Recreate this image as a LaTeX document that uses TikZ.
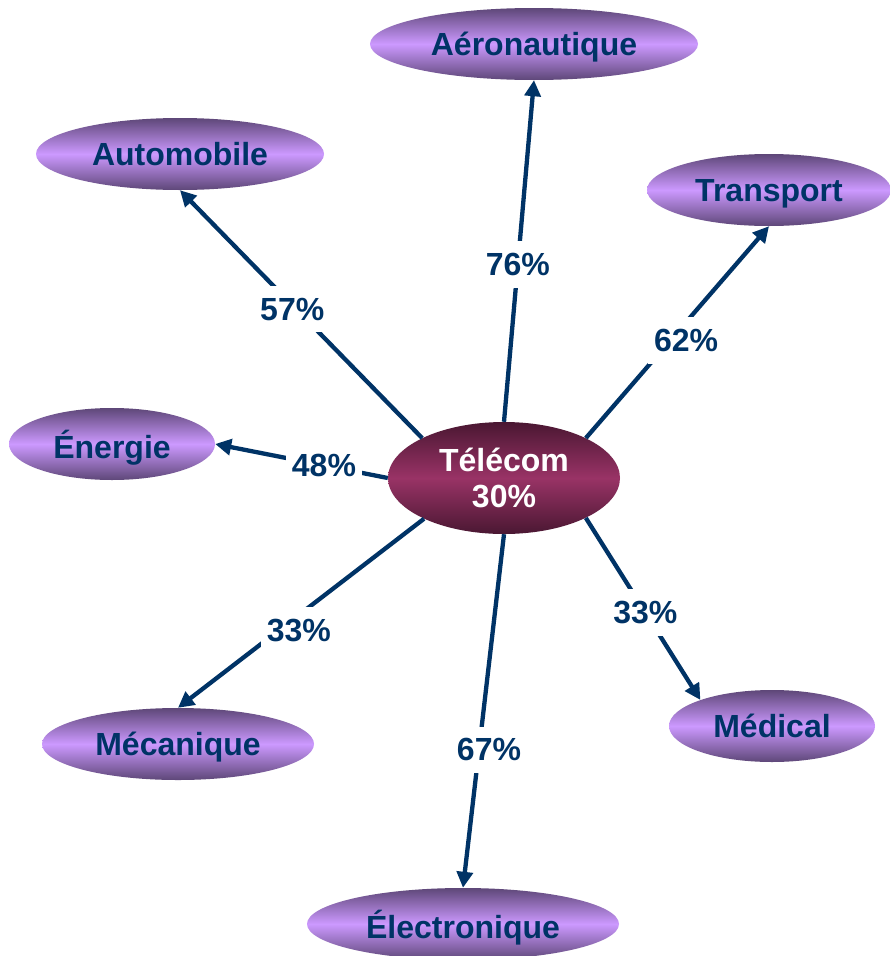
\documentclass[tikz,border=0pt]{standalone}
\usepackage{fontspec}
\setmainfont{Liberation Sans}
\usetikzlibrary{shapes.geometric,arrows.meta}
\definecolor{navy}{HTML}{003366}
\definecolor{lavtop}{HTML}{5E4778}
\definecolor{lavmid}{HTML}{CC99FF}
\definecolor{martop}{HTML}{4A1732}
\definecolor{marmid}{HTML}{993366}
\tikzset{
  field/.style={ellipse, inner sep=0pt, top color=lavtop, bottom color=lavtop, middle color=lavmid,
    text=navy, font=\fontsize{32}{36}\selectfont\bfseries, minimum height=72pt, text depth=0pt},
  hub/.style={ellipse, inner sep=0pt, top color=martop, bottom color=martop, middle color=marmid,
    text=white, font=\fontsize{32}{36}\selectfont\bfseries, align=center,
    minimum width=232pt, minimum height=112pt},
  link/.style={draw=navy, line width=4.3pt, -{Triangle[length=16pt,width=16pt]}},
  pct/.style={fill=white, text=navy, font=\fontsize{32}{36}\selectfont\bfseries, inner xsep=6pt, inner ysep=12pt}
}
\begin{document}
\begin{tikzpicture}[x=1pt,y=-1pt]
\useasboundingbox[fill=white] (0,0) rectangle (890,956);
\node[hub] (tel) at (504,478) {Télécom\\30\%};
\node[field, minimum width=328pt] (aero) at (534,44) {Aéronautique};
\node[field, minimum width=288pt] (auto) at (180,154) {Automobile};
\node[field, minimum width=244pt] (trans) at (769,190) {Transport};
\node[field, minimum width=206pt] (ener) at (112,444) {Énergie};
\node[field, minimum width=272pt] (meca) at (178,744) {Mécanique};
\node[field, minimum width=206pt] (med) at (772,726) {Médical};
\node[field, minimum width=312pt] (elec) at (463,924) {Électronique};
\draw[link] (tel.north) -- node[pct, pos=0.46] {76\%} (aero.south);
\draw[link] (tel.154) -- node[pct, pos=0.52, xshift=-4pt] {57\%} (auto.south);
\draw[link] (tel.26) -- node[pct, pos=0.46, xshift=16pt] {62\%} (trans.south);
\draw[link] (tel.west) -- node[pct, pos=0.37] {48\%} (ener.east);
\draw[link] (tel.207) -- node[pct, pos=0.59, xshift=20pt] {33\%} (meca.north);
\draw[link] (tel.south) -- node[pct, pos=0.61, xshift=10pt] {67\%} (elec.north);
\draw[link] (tel.334) -- node[pct, pos=0.52] {33\%} (med.160);
\end{tikzpicture}
\end{document}
